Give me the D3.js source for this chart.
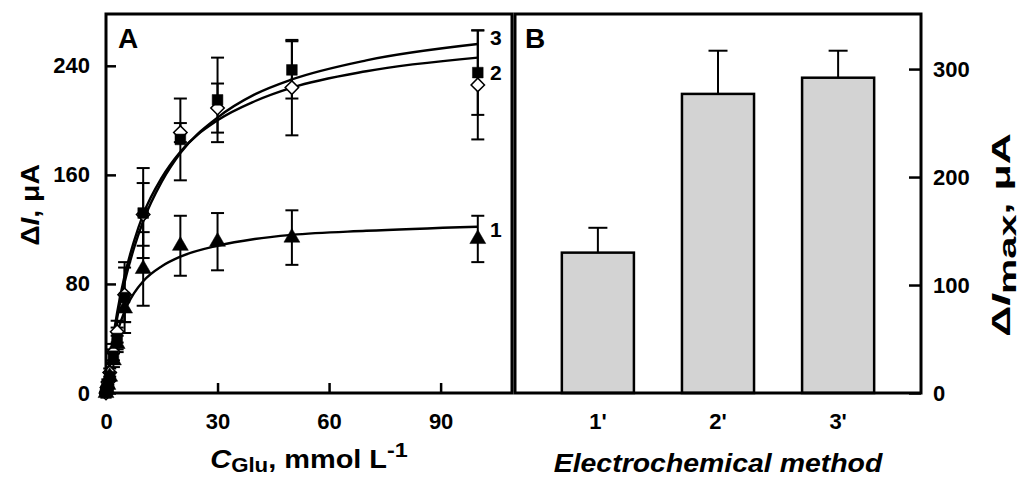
<html>
<head>
<style>
  body { margin: 0; background: #fff; }
  text { font-family: "Liberation Sans", Arial, sans-serif; font-weight: bold; fill: #000; }
</style>
<script src="https://cdn.jsdelivr.net/npm/d3@7"></script>
</head>
<body>
<script>
// panel A: glutamate concentration, mmol/L
const conc = [0, 0.25, 0.5, 1, 2, 3, 5, 10, 20, 30, 50, 100];
// series 1 (triangles), 2 (open diamonds), 3 (filled squares), uA
const curr1 = [0, 3, 6, 12, 24, 36, 62, 91, 108, 111, 114, 113];
const err1  = [1, 1, 2, 3, 5, 6, 10, 27, 22, 21, 20, 17];
const curr2 = [0, 4, 8, 15, 30, 45, 72, 131, 191, 209, 224, 226];
const err2  = [1, 1, 2, 3, 6, 8, 20, 23, 7, 18, 35, 40];
const curr3 = [0, 3, 6, 12, 27, 40, 70, 132, 186, 215, 237, 235];
const err3  = [1, 1, 2, 3, 5, 8, 26, 33, 30, 31, 21, 31];

// fitted saturation curves
const fitX = [0, 0.5, 1, 2, 3, 5, 7.5, 10, 15, 20, 30, 40, 50, 70, 100];
const fit1 = [0, 10, 19, 33, 44, 60, 73, 82, 93, 100, 108, 113, 116, 119, 122];
const fit2 = [0, 12, 23, 42, 59, 86, 111, 131, 158, 177, 200, 214, 224, 236, 246];
const fit3 = [0, 11, 21, 39, 55, 81, 106, 126, 155, 176, 202, 219, 230, 244, 256];

// panel B
const methods = ["1'", "2'", "3'"];
const imax = [130, 277, 292];
const imaxErr = [23, 40, 25];

const ticksAX = [0, 30, 60, 90];
const ticksAY = [0, 80, 160, 240];
const ticksBY = [0, 100, 200, 300];

const svg = d3.select("body").append("svg").attr("width", 1024).attr("height", 479);

// ---------- panel A ----------
const A = { left: 106, right: 512, top: 14, bottom: 393 };
const x = d3.scaleLinear().domain([0, 109.2]).range([A.left, A.right]);
const y = d3.scaleLinear().domain([0, 278]).range([A.bottom, A.top]);

function styleAxis(g) {
  g.select(".domain").remove();
  g.selectAll(".tick line").attr("stroke", "#000").attr("stroke-width", 2.5);
  g.selectAll(".tick text").style("font-size", "22px").style("font-family", "Liberation Sans, Arial, sans-serif").style("font-weight", "bold");
}

svg.append("g").attr("transform", `translate(${A.left},0)`)
  .call(d3.axisLeft(y).tickValues(ticksAY).tickSize(-10).tickPadding(16))
  .call(styleAxis);
svg.append("g").attr("transform", `translate(0,${A.bottom})`)
  .call(d3.axisBottom(x).tickValues(ticksAX).tickSize(-10).tickPadding(20))
  .call(styleAxis);

let series = [
  { v: curr2, e: err2, shape: "diamond" },
  { v: curr3, e: err3, shape: "square" },
  { v: curr1, e: err1, shape: "triangle" }
];

let bars = svg.append("g").attr("stroke", "#000").attr("stroke-width", 2);
series.forEach(s => {
  conc.forEach((c, i) => {
    let cx = x(c), lo = y(s.v[i] - s.e[i]), hi = y(s.v[i] + s.e[i]);
    bars.append("line").attr("x1", cx).attr("x2", cx).attr("y1", lo).attr("y2", hi);
    bars.append("line").attr("x1", cx - 6.5).attr("x2", cx + 6.5).attr("y1", lo).attr("y2", lo);
    bars.append("line").attr("x1", cx - 6.5).attr("x2", cx + 6.5).attr("y1", hi).attr("y2", hi);
  });
});

let line = d3.line().x(d => x(d[0])).y(d => y(d[1])).curve(d3.curveMonotoneX);
[fit1, fit2, fit3].forEach(f => {
  svg.append("path").datum(fitX.map((c, i) => [c, f[i]]))
    .attr("d", line).attr("fill", "none").attr("stroke", "#000").attr("stroke-width", 2.4);
});

series.forEach(s => {
  let sym;
  if (s.shape == "square") sym = d3.symbol().type(d3.symbolSquare).size(115);
  else if (s.shape == "triangle") sym = d3.symbol().type(d3.symbolTriangle).size(110);
  else sym = d3.symbol().type(d3.symbolSquare).size(90);
  svg.append("g").selectAll("path").data(conc).enter().append("path")
    .attr("d", sym)
    .attr("transform", (c, i) => `translate(${x(c)},${y(s.v[i])})` + (s.shape == "diamond" ? " rotate(45)" : ""))
    .attr("fill", s.shape == "diamond" ? "#fff" : "#000")
    .attr("stroke", "#000").attr("stroke-width", s.shape == "diamond" ? 1.5 : 0.5);
});

svg.append("text").attr("x", 118).attr("y", 48).style("font-size", "28px").text("A");
svg.append("text").attr("x", 490).attr("y", 45).style("font-size", "21px").text("3");
svg.append("text").attr("x", 490).attr("y", 80).style("font-size", "21px").text("2");
svg.append("text").attr("x", 490).attr("y", 237).style("font-size", "21px").text("1");

// ---------- panel B ----------
const B = { left: 515, right: 921, top: 14, bottom: 393 };
const xb = d3.scaleBand().domain(methods).range([B.left, B.right]).paddingInner(0.4).paddingOuter(0.39);
const yb = d3.scaleLinear().domain([0, 351]).range([B.bottom, B.top]);

let bg = svg.append("g");
methods.forEach((m, i) => {
  let cx = xb(m) + xb.bandwidth() / 2;
  bg.append("line").attr("x1", cx).attr("x2", cx).attr("y1", yb(imax[i])).attr("y2", yb(imax[i] + imaxErr[i]))
    .attr("stroke", "#000").attr("stroke-width", 2);
  bg.append("line").attr("x1", cx - 9.5).attr("x2", cx + 9.5).attr("y1", yb(imax[i] + imaxErr[i])).attr("y2", yb(imax[i] + imaxErr[i]))
    .attr("stroke", "#000").attr("stroke-width", 2);
  bg.append("rect").attr("x", xb(m)).attr("y", yb(imax[i]))
    .attr("width", xb.bandwidth()).attr("height", yb(0) - yb(imax[i]))
    .attr("fill", "#d3d3d3").attr("stroke", "#000").attr("stroke-width", 2.5);
});

svg.append("g").attr("transform", `translate(${B.right},0)`)
  .call(d3.axisRight(yb).tickValues(ticksBY).tickSize(-12).tickPadding(12))
  .call(styleAxis);
svg.append("g").attr("transform", `translate(0,${B.bottom})`)
  .call(d3.axisBottom(xb).tickSize(0).tickPadding(20))
  .call(styleAxis);

svg.append("text").attr("x", 525).attr("y", 48).style("font-size", "28px").text("B");

// frames
[A, B].forEach(p => {
  svg.append("rect").attr("x", p.left).attr("y", p.top)
    .attr("width", p.right - p.left).attr("height", p.bottom - p.top)
    .attr("fill", "none").attr("stroke", "#000").attr("stroke-width", 3);
});

// axis titles, stretched to the widths seen in the figure
function title(tx, ty, rot, target, build) {
  let g = svg.append("g").attr("transform", `translate(${tx},${ty}) rotate(${rot})`);
  let inner = g.append("g");
  let t = inner.append("text").attr("text-anchor", "middle").style("font-size", "26px");
  build(t);
  let w = t.node().getBBox().width;
  inner.attr("transform", `scale(${target / w},1)`);
}

title(309, 468, 0, 198, t => {
  t.append("tspan").style("font-style", "italic").text("C");
  t.append("tspan").attr("dy", 4).style("font-size", "20px").text("Glu");
  t.append("tspan").attr("dy", -4).text(", mmol L");
  t.append("tspan").attr("dy", -11).style("font-size", "21px").text("-1");
});
title(718, 472, 0, 330, t => {
  t.style("font-style", "italic").text("Electrochemical method");
});
title(39, 205, -90, 82, t => {
  t.append("tspan").text("\u0394");
  t.append("tspan").style("font-style", "italic").text("I");
  t.append("tspan").text(", \u03bcA");
});
title(1010, 235, -90, 204, t => {
  t.append("tspan").text("\u0394");
  t.append("tspan").style("font-style", "italic").text("I");
  t.append("tspan").attr("dy", 6).style("font-size", "24px").text("max");
  t.append("tspan").attr("dy", -6).text(", \u03bcA");
});
</script>
</body>
</html>
